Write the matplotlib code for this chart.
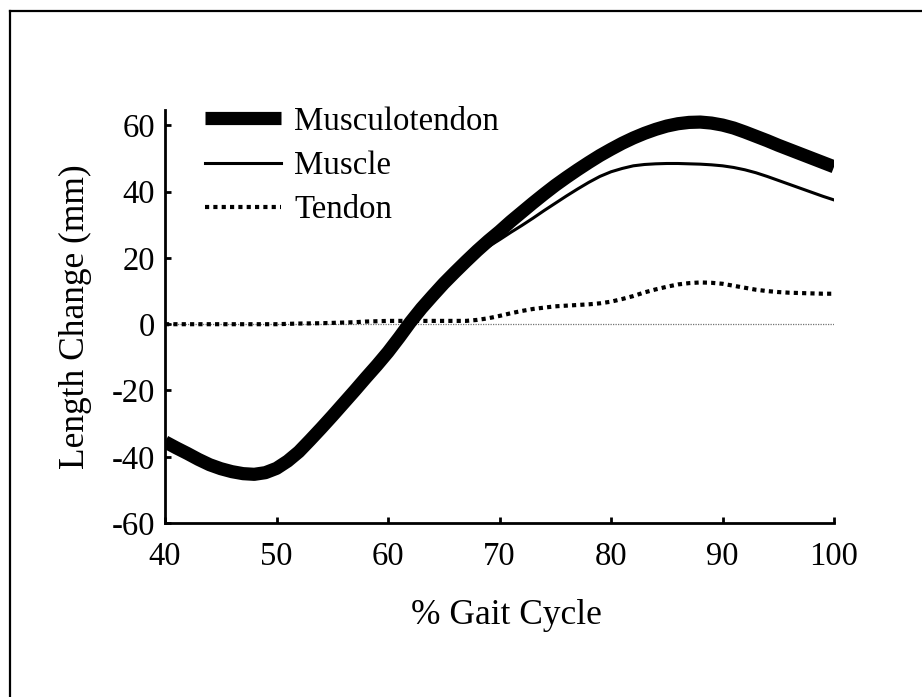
import matplotlib.pyplot as plt
from matplotlib.lines import Line2D

plt.rcParams['font.family'] = ['Liberation Serif', 'DejaVu Serif']
plt.rcParams['axes.unicode_minus'] = False

# % gait cycle, one point per percent
gait = list(range(40, 101))

# length change (mm)
musculotendon = [-35.5, -37.3, -39.0, -40.8, -42.4, -43.6, -44.5, -45.1, -45.3, -44.8,
                 -43.5, -41.3, -38.5, -35.0, -31.4, -27.7, -23.9, -20.1, -16.2, -12.4,
                 -8.4, -4.0, 0.6, 4.8, 8.6, 12.3, 15.7, 19.0, 22.2, 25.2,
                 28.0, 31.0, 33.8, 36.6, 39.3, 41.9, 44.3, 46.6, 48.8, 50.9,
                 52.8, 54.6, 56.2, 57.6, 58.8, 59.8, 60.5, 60.9, 61.0, 60.7,
                 60.1, 59.2, 58.0, 56.7, 55.4, 54.0, 52.7, 51.4, 50.1, 48.8,
                 47.5]
muscle = [-35.5, -37.3, -39.0, -40.8, -42.4, -43.6, -44.5, -45.1, -45.3, -44.8,
          -43.5, -41.4, -38.7, -35.3, -31.7, -28.1, -24.4, -20.7, -17.0, -13.3,
          -9.4, -5.0, -0.4, 3.8, 7.6, 11.3, 14.7, 18.0, 20.9, 23.4,
          25.5, 27.7, 29.8, 32.0, 34.3, 36.5, 38.7, 40.8, 42.8, 44.6,
          46.0, 47.0, 47.8, 48.2, 48.4, 48.5, 48.5, 48.4, 48.3, 48.1,
          47.8, 47.3, 46.6, 45.7, 44.6, 43.4, 42.2, 41.0, 39.8, 38.6,
          37.5]
tendon = [0.0, 0.0, 0.0, 0.0, 0.0, 0.0, 0.0, 0.0, 0.0, 0.0,
          0.0, 0.1, 0.2, 0.25, 0.3, 0.4, 0.5, 0.6, 0.8, 0.9,
          1.0, 1.0, 1.0, 1.0, 1.0, 1.0, 1.0, 1.0, 1.3, 1.8,
          2.5, 3.3, 4.0, 4.6, 5.0, 5.4, 5.6, 5.8, 6.0, 6.3,
          6.8, 7.6, 8.5, 9.6, 10.5, 11.3, 12.0, 12.4, 12.6, 12.5,
          12.2, 11.6, 11.0, 10.4, 10.0, 9.7, 9.5, 9.4, 9.3, 9.2,
          9.2]

fig = plt.figure(figsize=(9.22, 6.97), dpi=100)
ax = fig.add_axes([0.179, 0.2496, 0.7256, 0.5919])

ax.plot([40, 100], [0, 0], color='0.45', lw=0.9, ls=(0, (1, 1)), zorder=1)
ax.plot(gait, musculotendon, color='black', lw=9.5, solid_capstyle='butt',
        solid_joinstyle='round', label='Musculotendon', zorder=2)
ax.plot(gait, muscle, color='black', lw=2.2, solid_joinstyle='round', label='Muscle', zorder=3)
ax.plot(gait, tendon, color='black', lw=3.0, ls=(0, (1, 1)), label='Tendon', zorder=3)

ax.set_xlim(40, 100)
ax.set_ylim(-60, 64.5)
ax.set_xticks([40, 50, 60, 70, 80, 90, 100])
ax.set_yticks([-60, -40, -20, 0, 20, 40, 60])

for s in ['top', 'right']:
    ax.spines[s].set_visible(False)
for s in ['left', 'bottom']:
    ax.spines[s].set_linewidth(2.0)

ax.tick_params(direction='in', length=4, width=2, labelsize=23.5)
ax.tick_params(axis='x', pad=13)
ax.tick_params(axis='y', pad=7)

ax.set_xlabel('% Gait Cycle', fontsize=25.5)
ax.set_ylabel('Length Change (mm)', fontsize=25.5)
ax.xaxis.set_label_coords(0.51, -0.184)
ax.yaxis.set_label_coords(-0.109, 0.5)

ax.legend(loc='upper left', bbox_to_anchor=(0.06, 1.01), frameon=False, fontsize=23.7,
          handlelength=2.3, handletextpad=0.4, labelspacing=0.42, borderpad=0, borderaxespad=0)

# frame round the figure
fig.add_artist(Line2D([0.0108, 1.0], [0.984, 0.984], color='black', lw=1.6, transform=fig.transFigure))
fig.add_artist(Line2D([0.0108, 0.0108], [0.0, 0.984], color='black', lw=1.6, transform=fig.transFigure))

fig.savefig('out.png', dpi=100)
